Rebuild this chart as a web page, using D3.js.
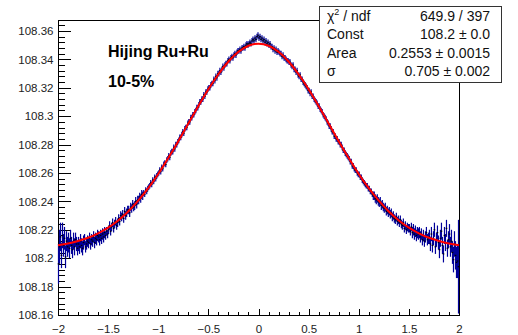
<!DOCTYPE html>
<html><head><meta charset="utf-8">
<script src="https://cdn.jsdelivr.net/npm/d3@7"></script>
<style>body{margin:0;background:#fff}svg{display:block}</style>
</head><body><svg id="c" width="518" height="335"></svg>
<script>
// ---- data ----
const histRange = [-2, 2];
const xTicks = [-2, -1.5, -1, -0.5, 0, 0.5, 1, 1.5, 2];
const xTickLabels = ["−2", "−1.5", "−1", "−0.5", "0", "0.5", "1", "1.5", "2"];
const yTicks = [108.16, 108.18, 108.2, 108.22, 108.24, 108.26, 108.28, 108.3, 108.32, 108.34, 108.36];
const yTickLabels = ["108.16", "108.18", "108.2", "108.22", "108.24", "108.26", "108.28", "108.3", "108.32", "108.34", "108.36"];
const titleLines = ["Hijing Ru+Ru", "10-5%"];
const statsLabels = ["χ2 / ndf", "Const", "Area", "σ"];
const statsValues = ["649.9 / 397", "108.2 ± 0.0", "0.2553 ± 0.0015", "0.705 ± 0.002"];

// 400 bins, -2 .. 2
const binValues = [
108.196,108.208,108.215,108.202,108.216,108.209,108.214,108.201,108.212,108.208,
108.211,108.207,108.214,108.209,108.206,108.212,108.208,108.213,108.210,108.207,
108.210,108.208,108.212,108.209,108.207,108.211,108.213,108.208,108.210,108.212,
108.211,108.214,108.210,108.213,108.212,108.215,108.211,108.214,108.213,108.216,
108.215,108.213,108.216,108.214,108.217,108.215,108.218,108.216,108.219,108.217,
108.220,108.223,108.219,108.222,108.225,108.221,108.224,108.226,108.223,108.225,
108.228,108.226,108.230,108.229,108.231,108.228,108.233,108.230,108.232,108.234,
108.234,108.232,108.236,108.235,108.238,108.236,108.237,108.240,108.238,108.241,
108.241,108.243,108.242,108.245,108.244,108.246,108.245,108.248,108.247,108.249,
108.250,108.251,108.253,108.252,108.255,108.254,108.257,108.256,108.258,108.259,
108.260,108.262,108.261,108.264,108.263,108.266,108.267,108.266,108.269,108.270,
108.272,108.271,108.274,108.275,108.275,108.278,108.277,108.280,108.280,108.282,
108.283,108.285,108.285,108.287,108.289,108.288,108.291,108.292,108.292,108.295,
108.296,108.296,108.299,108.299,108.301,108.301,108.303,108.304,108.306,108.306,
108.308,108.310,108.310,108.312,108.312,108.315,108.314,108.317,108.317,108.319,
108.320,108.320,108.322,108.323,108.323,108.326,108.325,108.328,108.327,108.330,
108.330,108.332,108.331,108.333,108.335,108.334,108.336,108.337,108.337,108.339,
108.340,108.339,108.341,108.342,108.341,108.343,108.344,108.343,108.345,108.346,
108.346,108.347,108.346,108.348,108.348,108.349,108.348,108.350,108.351,108.350,
108.351,108.352,108.351,108.353,108.354,108.353,108.355,108.354,108.356,108.357,
108.355,108.356,108.354,108.355,108.353,108.354,108.352,108.353,108.351,108.352,
108.350,108.351,108.349,108.349,108.347,108.348,108.346,108.347,108.345,108.346,
108.345,108.344,108.344,108.342,108.343,108.341,108.341,108.340,108.339,108.339,
108.338,108.338,108.336,108.335,108.336,108.333,108.333,108.331,108.332,108.329,
108.328,108.329,108.326,108.326,108.324,108.323,108.322,108.321,108.320,108.318,
108.318,108.316,108.317,108.314,108.314,108.312,108.311,108.310,108.309,108.307,
108.307,108.305,108.304,108.303,108.301,108.300,108.299,108.298,108.296,108.295,
108.293,108.293,108.291,108.289,108.289,108.286,108.286,108.284,108.284,108.282,
108.282,108.280,108.280,108.278,108.276,108.276,108.274,108.273,108.272,108.271,
108.270,108.268,108.268,108.265,108.265,108.263,108.262,108.262,108.260,108.259,
108.259,108.257,108.257,108.255,108.254,108.253,108.252,108.251,108.251,108.249,
108.249,108.247,108.247,108.245,108.244,108.244,108.242,108.241,108.242,108.240,
108.239,108.240,108.237,108.238,108.236,108.235,108.236,108.233,108.234,108.232,
108.233,108.231,108.232,108.229,108.230,108.228,108.227,108.229,108.226,108.227,
108.225,108.227,108.224,108.223,108.225,108.221,108.223,108.220,108.222,108.221,
108.221,108.219,108.222,108.218,108.220,108.217,108.219,108.216,108.218,108.217,
108.218,108.215,108.217,108.213,108.216,108.212,108.215,108.218,108.213,108.214,
108.215,108.210,108.217,108.209,108.214,108.220,108.208,108.213,108.218,108.211,
108.206,108.214,108.219,108.209,108.203,108.216,108.211,108.221,108.207,108.213,
108.217,108.208,108.212,108.204,108.199,108.210,108.202,108.197,108.198,108.194
];
const binErrors = [
0.014,0.012,0.010,0.009,0.009,0.008,0.008,0.008,0.007,0.007,
0.007,0.007,0.006,0.006,0.006,0.006,0.006,0.005,0.005,0.005,
0.005,0.005,0.005,0.005,0.005,0.005,0.004,0.004,0.004,0.004,
0.004,0.004,0.004,0.004,0.004,0.004,0.004,0.004,0.004,0.004,
0.004,0.004,0.004,0.004,0.004,0.004,0.004,0.003,0.003,0.003,
0.003,0.003,0.003,0.003,0.003,0.003,0.003,0.003,0.003,0.003,
0.003,0.003,0.003,0.003,0.003,0.003,0.003,0.003,0.003,0.003,
0.003,0.003,0.003,0.003,0.003,0.003,0.003,0.003,0.003,0.003,
0.003,0.003,0.003,0.003,0.003,0.002,0.002,0.002,0.002,0.002,
0.002,0.002,0.002,0.002,0.002,0.002,0.002,0.002,0.002,0.002,
0.002,0.002,0.002,0.002,0.002,0.002,0.002,0.002,0.002,0.002,
0.002,0.002,0.002,0.002,0.002,0.002,0.002,0.002,0.002,0.002,
0.002,0.002,0.002,0.002,0.002,0.002,0.002,0.002,0.002,0.002,
0.002,0.002,0.002,0.002,0.002,0.002,0.002,0.002,0.002,0.002,
0.002,0.002,0.002,0.002,0.002,0.002,0.002,0.002,0.002,0.002,
0.002,0.002,0.002,0.002,0.002,0.002,0.002,0.002,0.002,0.002,
0.002,0.002,0.002,0.002,0.002,0.002,0.002,0.002,0.002,0.002,
0.002,0.002,0.002,0.002,0.002,0.002,0.002,0.002,0.002,0.002,
0.002,0.002,0.002,0.002,0.002,0.002,0.002,0.002,0.002,0.002,
0.002,0.002,0.002,0.002,0.002,0.002,0.002,0.002,0.002,0.002,
0.002,0.002,0.002,0.002,0.002,0.002,0.002,0.002,0.002,0.002,
0.002,0.002,0.002,0.002,0.002,0.002,0.002,0.002,0.002,0.002,
0.002,0.002,0.002,0.002,0.002,0.002,0.002,0.002,0.002,0.002,
0.002,0.002,0.002,0.002,0.002,0.002,0.002,0.002,0.002,0.002,
0.002,0.002,0.002,0.002,0.002,0.002,0.002,0.002,0.002,0.002,
0.002,0.002,0.002,0.002,0.002,0.002,0.002,0.002,0.002,0.002,
0.002,0.002,0.002,0.002,0.002,0.002,0.002,0.002,0.002,0.002,
0.002,0.002,0.002,0.002,0.002,0.002,0.002,0.002,0.002,0.002,
0.002,0.002,0.002,0.002,0.002,0.002,0.002,0.002,0.002,0.002,
0.002,0.002,0.002,0.002,0.002,0.002,0.002,0.002,0.002,0.002,
0.002,0.002,0.002,0.002,0.002,0.002,0.002,0.002,0.002,0.002,
0.002,0.002,0.002,0.002,0.003,0.003,0.003,0.003,0.003,0.003,
0.003,0.003,0.003,0.003,0.003,0.003,0.003,0.003,0.003,0.003,
0.003,0.003,0.003,0.003,0.003,0.003,0.003,0.003,0.003,0.003,
0.003,0.003,0.003,0.003,0.003,0.003,0.003,0.003,0.003,0.003,
0.003,0.003,0.003,0.004,0.004,0.004,0.004,0.004,0.004,0.004,
0.004,0.004,0.004,0.004,0.004,0.004,0.004,0.004,0.004,0.004,
0.005,0.005,0.005,0.005,0.005,0.005,0.005,0.005,0.005,0.005,
0.006,0.006,0.006,0.006,0.006,0.006,0.006,0.006,0.006,0.006,
0.007,0.007,0.008,0.008,0.009,0.009,0.010,0.011,0.012,0.033
];

// fitted Gaussian + constant, sampled every 0.1
const fitX = [-2,-1.9,-1.8,-1.7,-1.6,-1.5,-1.4,-1.3,-1.2,-1.1,-1,-0.9,-0.8,-0.7,-0.6,-0.5,-0.4,-0.3,-0.2,-0.1,0,
  0.1,0.2,0.3,0.4,0.5,0.6,0.7,0.8,0.9,1,1.1,1.2,1.3,1.4,1.5,1.6,1.7,1.8,1.9,2];
const fitY = [108.2091,108.2103,108.2121,108.2144,108.2175,108.2215,108.2266,108.2329,108.2405,108.2493,
  108.2593,108.2705,108.2824,108.2948,108.3071,108.3189,108.3295,108.3385,108.3453,108.3496,108.3510,
  108.3496,108.3453,108.3385,108.3295,108.3189,108.3071,108.2948,108.2824,108.2705,108.2593,
  108.2493,108.2405,108.2329,108.2266,108.2215,108.2175,108.2144,108.2121,108.2103,108.2091];

// ---- drawing ----
const svg = d3.select("#c");
const L = 58, R = 459, T = 20, B = 315;
const x = d3.scaleLinear().domain(histRange).range([L, R]);
const y = d3.scaleLinear().domain([108.16, 108.3677]).range([B, T]);
const nBins = binValues.length;
const bw = (histRange[1] - histRange[0]) / nBins;
const bins = binValues.map((v, i) => ({ c: histRange[0] + (i + 0.5) * bw, v, e: binErrors[i] }));

const font = "'Liberation Sans', Arial, Helvetica, sans-serif";

// frame
svg.append("rect").attr("x", L + 0.5).attr("y", T + 0.5).attr("width", R - L).attr("height", B - T)
  .attr("fill", "#fff").attr("stroke", "#000").attr("stroke-width", 1).attr("shape-rendering", "crispEdges");

// y axis major
svg.append("g").attr("transform", `translate(${L + 0.5},0)`)
  .call(d3.axisLeft(y).tickValues(yTicks).tickFormat((d, i) => yTickLabels[i]).tickSizeInner(-12).tickSizeOuter(0).tickPadding(5));
// y minor
const yMinor = d3.range(0, 60).map(k => 108.16 + k * 0.004).filter(v => v <= 108.3677);
svg.append("g").attr("transform", `translate(${L + 0.5},0)`)
  .call(d3.axisLeft(y).tickValues(yMinor).tickFormat("").tickSizeInner(-6).tickSizeOuter(0));
// x axis major
svg.append("g").attr("transform", `translate(0,${B + 0.5})`)
  .call(d3.axisBottom(x).tickValues(xTicks).tickFormat((d, i) => xTickLabels[i]).tickSizeInner(-7).tickSizeOuter(0).tickPadding(9));
const xMinor = d3.range(0, 41).map(k => -2 + k * 0.1);
svg.append("g").attr("transform", `translate(0,${B + 0.5})`)
  .call(d3.axisBottom(x).tickValues(xMinor).tickFormat("").tickSizeInner(-4).tickSizeOuter(0));

svg.selectAll(".domain").remove();
svg.selectAll(".tick line").attr("stroke", "#000").attr("shape-rendering", "crispEdges");
svg.selectAll(".tick text").attr("font-family", font).attr("font-size", "11.5px").attr("fill", "#222");

// histogram error bars
const gH = svg.append("g");
gH.selectAll("line.err").data(bins).join("line").attr("class", "err")
  .attr("x1", d => x(d.c)).attr("x2", d => x(d.c))
  .attr("y1", d => y(d.v - d.e)).attr("y2", d => y(d.v + d.e))
  .attr("stroke", "#00009a").attr("stroke-width", 1.2);
gH.selectAll("rect.mk").data(bins).join("rect").attr("class", "mk")
  .attr("x", d => x(d.c) - 0.8).attr("y", d => y(d.v) - 0.6)
  .attr("width", 1.6).attr("height", 1.2).attr("fill", "#000");

// fit curve
const fitPts = fitX.map((xx, i) => [xx, fitY[i]]);
svg.append("path").datum(fitPts)
  .attr("d", d3.line().x(d => x(d[0])).y(d => y(d[1])).curve(d3.curveNatural))
  .attr("fill", "none").attr("stroke", "#ff0000").attr("stroke-width", 2);

// title text
svg.selectAll("text.ttl").data(titleLines).join("text").attr("class", "ttl")
  .attr("x", 108).attr("y", (d, i) => 57 + i * 30)
  .attr("font-family", font).attr("font-weight", "bold").attr("font-size", "16px").attr("fill", "#000")
  .text(d => d);

// stats box
svg.append("rect").attr("x", 319.5).attr("y", 6.5).attr("width", 182).attr("height", 76)
  .attr("fill", "#fff").attr("stroke", "#333").attr("shape-rendering", "crispEdges");
const rowY = [20.5, 39, 57.5, 76];
statsLabels.forEach((lab, i) => {
  const t = svg.append("text").attr("x", 327).attr("y", rowY[i])
    .attr("font-family", font).attr("font-size", "14px").attr("fill", "#111");
  if (lab.startsWith("χ2")) {
    t.append("tspan").text("χ");
    t.append("tspan").attr("font-size", "9px").attr("dy", -6).text("2");
    t.append("tspan").attr("dy", 6).text(" / ndf");
  } else {
    t.text(lab);
  }
  svg.append("text").attr("x", 490).attr("y", rowY[i]).attr("text-anchor", "end")
    .attr("font-family", font).attr("font-size", "14px").attr("fill", "#111")
    .text(statsValues[i]);
});
</script>
</body></html>
